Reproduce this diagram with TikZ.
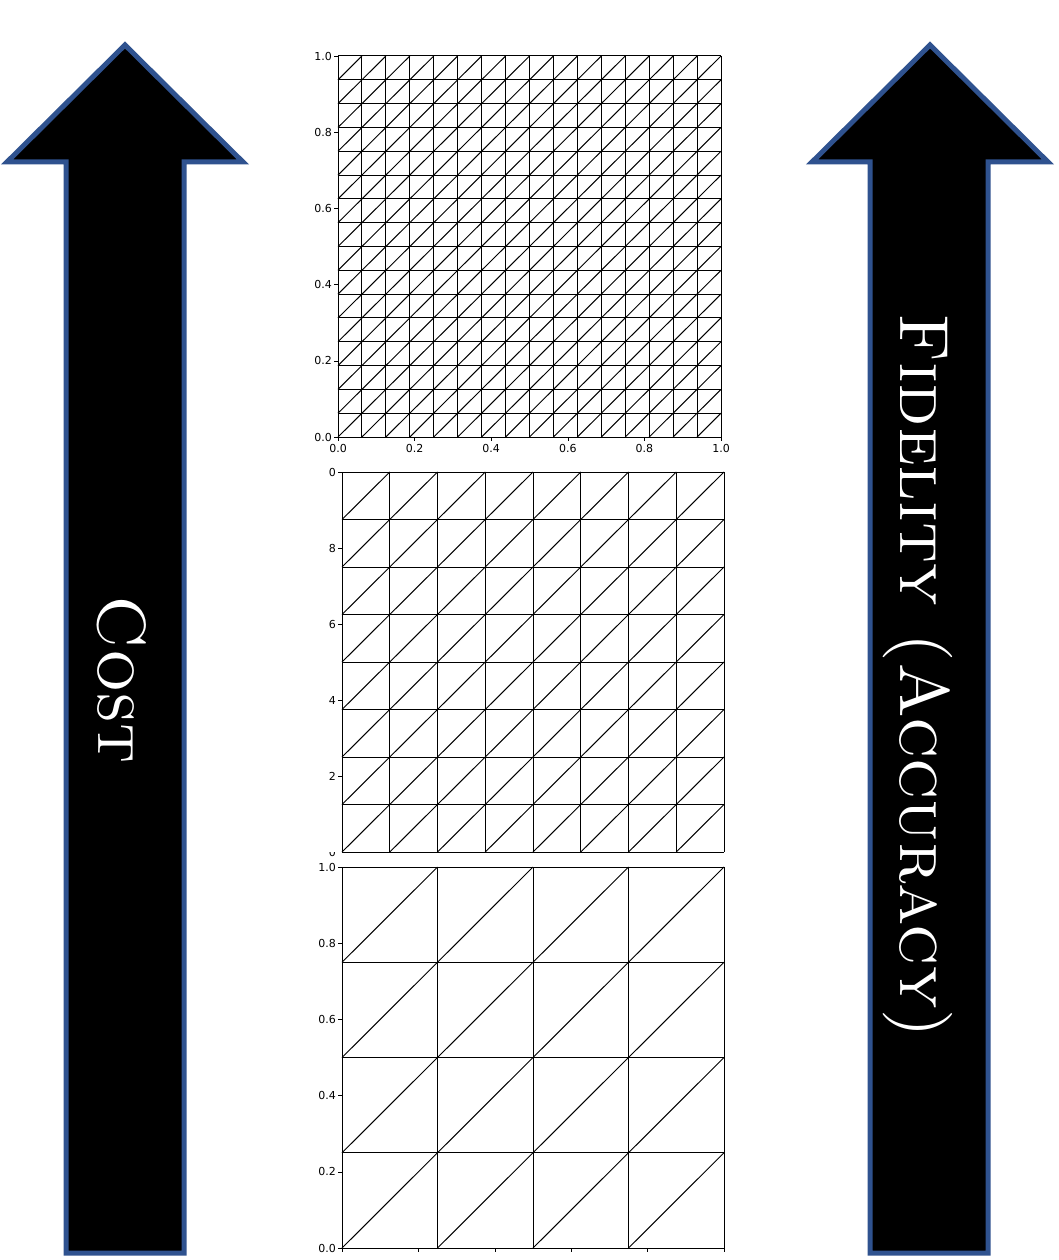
\documentclass[tikz,border=0pt]{standalone}
\usepackage{fontspec}
\newfontfamily\tickfont{DejaVu Sans}
\begin{document}
\begin{tikzpicture}[x=1pt,y=-1pt,
  arrowbody/.style={fill=black,draw={rgb,255:red,47;green,82;blue,143},line width=5pt,line join=miter},
  meshline/.style={line width=1pt},
  ticklbl/.style={font=\tickfont\fontsize{11}{11}\selectfont,inner sep=1pt},
  biglbl/.style={text=white,rotate=-90}]
\useasboundingbox (0,0) rectangle (1058,1260);
% arrows
\draw[arrowbody] (66,1253) -- (66,162) -- (7,162) -- (125,45) -- (243,162) -- (184,162) -- (184,1253) -- cycle;
\draw[arrowbody] (870,1253) -- (870,162) -- (812,162) -- (930,45) -- (1048,162) -- (988,162) -- (988,1253) -- cycle;
\node[biglbl,font=\fontsize{68}{68}\selectfont] (cost) at (122,680) {\textsc{Cost}};
\node[biglbl,font=\fontsize{69.5}{69.5}\selectfont] (fid) at (918,676) {\textsc{Fidelity (Accuracy)}};
% mesh macro: #1 x0, #2 x1, #3 ytop, #4 ybottom, #5 n
\newcommand{\mymesh}[5]{%
  \pgfmathsetmacro{\dx}{(#2-#1)/#5}\pgfmathsetmacro{\dy}{(#4-#3)/#5}%
  \foreach \i in {0,...,#5}{%
    \draw[meshline] ({#1+\i*\dx},#3) -- ({#1+\i*\dx},#4);
    \draw[meshline] (#1,{#3+\i*\dy}) -- (#2,{#3+\i*\dy});}
  \pgfmathtruncatemacro{\nm}{#5-1}%
  \foreach \i in {0,...,\nm}{\foreach \j in {0,...,\nm}{%
    \draw[meshline] ({#1+\i*\dx},{#4-\j*\dy}) -- ({#1+(\i+1)*\dx},{#4-(\j+1)*\dy});}}}
\mymesh{338}{721}{56}{437}{16}
\mymesh{342}{724}{472}{852}{8}
\mymesh{342}{724}{867}{1248}{4}
% top mesh ticks
\foreach \k/\l in {0/0.0,1/0.2,2/0.4,3/0.6,4/0.8,5/1.0}{
  \draw ({338+\k*76.6},437) -- ++(0,4);
  \node[ticklbl,anchor=north] at ({338+\k*76.6},443) {\l};
  \draw (338,{437-\k*76.2}) -- ++(-4,0);
  \node[ticklbl,anchor=east] at (333,{437-\k*76.2}) {\l};}
% middle mesh ticks
\foreach \k/\l in {1/2,2/4,3/6,4/8}{
  \draw (342,{852-\k*76}) -- ++(-4,0);
  \node[ticklbl,anchor=east] at (337,{852-\k*76}) {\l};}
\draw (342,472) -- ++(-4,0);
\node[ticklbl,anchor=east] at (337,472) {0};
\begin{scope}
\clip (300,852) rectangle (340,858);
\node[ticklbl,anchor=east] at (337,852) {0};
\end{scope}
% bottom mesh ticks
\foreach \k/\l in {0/0.0,1/0.2,2/0.4,3/0.6,4/0.8,5/1.0}{
  \draw ({342+\k*76.4},1248) -- ++(0,4);
  \draw (342,{1248-\k*76.2}) -- ++(-4,0);
  \node[ticklbl,anchor=east] at (337,{1248-\k*76.2}) {\l};}
\end{tikzpicture}
\end{document}
